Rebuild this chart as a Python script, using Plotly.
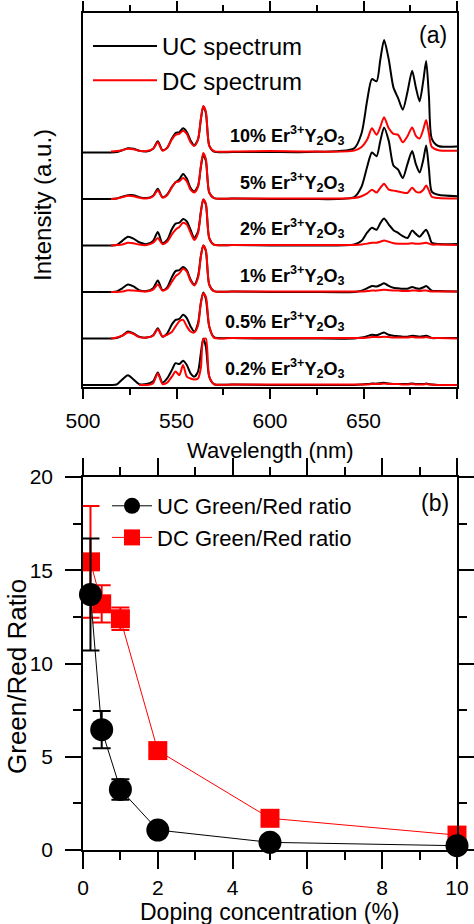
import plotly.graph_objects as go

# ---- panel (a): emission spectra, normalised to the 564 nm peak ----
wavelength = [500, 515, 518, 521, 524, 527, 530, 534, 537.5, 540, 542.5, 545, 547.5,
              549.5, 551.5, 553.5, 555.5, 557.5, 559.5, 561.5, 563, 564.3, 565.7, 567.5,
              570, 580, 600, 620, 645, 649, 652, 654.5, 657, 659, 661, 663.5, 666,
              668.5, 671, 673.5, 676, 678, 680, 682, 683.5, 685, 686.5, 690, 700]

conc_labels = ["0.2%", "0.5%", "1%", "2%", "5%", "10%"]

uc_02 = [0, 0, 0.01, 0.12, 0.21, 0.12, 0.02, 0.02, 0.08, 0.27, 0.05, 0.14, 0.32, 0.47, 0.45, 0.52,
         0.43, 0.25, 0.18, 0.29, 0.68, 1.0, 0.82, 0.18, 0.02, 0.01, 0.0, 0.0, 0.0, 0.01, 0.02, 0.03,
         0.03, 0.04, 0.05, 0.03, 0.02, 0.02, 0.02, 0.02, 0.03, 0.02, 0.02, 0.02, 0.03, 0.02, 0.01, 0.0, 0.0]
dc_02 = [None, None, None, None, None, None, 0.0, 0.0, 0.04, 0.25, 0.02, 0.05, 0.18, 0.29, 0.21, 0.43,
         0.18, 0.14, 0.12, 0.14, 0.36, 0.98, 1.0, 0.18, 0.02, 0.01, 0.01, 0.01, 0.01, 0.01, 0.01, 0.02,
         0.02, 0.02, 0.03, 0.02, 0.02, 0.02, 0.01, 0.01, 0.02, 0.01, 0.01, 0.01, 0.02, 0.01, 0.01, 0.0, 0.0]
uc_05 = [0, 0, 0.01, 0.06, 0.15, 0.11, 0.04, 0.02, 0.07, 0.22, 0.04, 0.11, 0.30, 0.40, 0.42, 0.51,
         0.44, 0.26, 0.15, 0.33, 0.76, 0.99, 0.85, 0.26, 0.03, 0.01, 0.0, 0.0, 0.0, 0.02, 0.05, 0.08,
         0.07, 0.10, 0.13, 0.08, 0.06, 0.05, 0.04, 0.04, 0.06, 0.05, 0.04, 0.05, 0.06, 0.04, 0.01, 0.01, 0.01]
dc_05 = [None, 0.0, 0.02, 0.06, 0.13, 0.10, 0.03, 0.02, 0.06, 0.20, 0.04, 0.08, 0.14, 0.26, 0.37, 0.40,
         0.26, 0.15, 0.13, 0.28, 0.76, 0.97, 0.90, 0.26, 0.02, 0.01, 0.01, 0.01, 0.01, 0.01, 0.02, 0.03,
         0.03, 0.03, 0.04, 0.03, 0.02, 0.02, 0.02, 0.02, 0.03, 0.02, 0.02, 0.02, 0.03, 0.02, 0.01, 0.01, 0.0]
uc_1 = [0, 0, 0.01, 0.08, 0.16, 0.12, 0.04, 0.02, 0.08, 0.25, 0.04, 0.10, 0.32, 0.45, 0.47, 0.54,
        0.47, 0.27, 0.16, 0.34, 0.77, 1.0, 0.88, 0.16, 0.02, 0.01, 0.0, 0.0, 0.0, 0.03, 0.08, 0.13,
        0.12, 0.15, 0.19, 0.13, 0.09, 0.08, 0.07, 0.07, 0.11, 0.08, 0.07, 0.10, 0.13, 0.08, 0.03, 0.02, 0.01]
dc_1 = [None, 0.0, 0.0, 0.01, 0.04, 0.03, 0.02, 0.01, 0.05, 0.16, 0.03, 0.07, 0.22, 0.34, 0.40, 0.50,
        0.44, 0.24, 0.14, 0.30, 0.75, 1.0, 0.90, 0.16, 0.02, 0.01, 0.01, 0.01, 0.01, 0.01, 0.02, 0.03,
        0.03, 0.04, 0.05, 0.04, 0.03, 0.03, 0.02, 0.02, 0.03, 0.03, 0.02, 0.03, 0.03, 0.02, 0.01, 0.01, 0.01]
uc_2 = [0, 0, 0.01, 0.10, 0.19, 0.15, 0.07, 0.03, 0.10, 0.29, 0.05, 0.12, 0.35, 0.47, 0.49, 0.57,
        0.52, 0.34, 0.16, 0.30, 0.72, 0.99, 0.88, 0.16, 0.02, 0.01, 0.0, 0.0, 0.02, 0.10, 0.28, 0.38,
        0.34, 0.48, 0.58, 0.45, 0.33, 0.27, 0.20, 0.16, 0.32, 0.25, 0.19, 0.28, 0.34, 0.22, 0.06, 0.03, 0.03]
dc_2 = [None, 0.0, 0.01, 0.02, 0.06, 0.05, 0.02, 0.01, 0.06, 0.16, 0.03, 0.08, 0.24, 0.34, 0.40, 0.49,
        0.45, 0.28, 0.12, 0.26, 0.70, 0.99, 0.90, 0.16, 0.02, 0.01, 0.01, 0.01, 0.01, 0.02, 0.04, 0.06,
        0.06, 0.08, 0.11, 0.08, 0.05, 0.04, 0.04, 0.04, 0.05, 0.04, 0.04, 0.05, 0.06, 0.04, 0.02, 0.02, 0.01]
uc_5 = [0, 0, 0.01, 0.05, 0.08, 0.08, 0.04, 0.02, 0.07, 0.22, 0.04, 0.10, 0.26, 0.36, 0.42, 0.54,
        0.44, 0.24, 0.16, 0.28, 0.68, 0.95, 0.82, 0.14, 0.02, 0.01, 0.0, 0.0, 0.04, 0.27, 0.70, 1.0,
        0.92, 1.25, 1.54, 1.25, 0.72, 0.63, 0.45, 0.75, 1.03, 0.75, 0.57, 0.85, 1.15, 0.65, 0.16, 0.09, 0.06]
dc_5 = [None, 0.0, 0.01, 0.04, 0.07, 0.06, 0.03, 0.01, 0.06, 0.19, 0.03, 0.08, 0.25, 0.36, 0.38, 0.45,
        0.38, 0.20, 0.14, 0.26, 0.70, 0.99, 0.86, 0.14, 0.02, 0.01, 0.01, 0.01, 0.02, 0.06, 0.12, 0.20,
        0.14, 0.24, 0.33, 0.20, 0.18, 0.16, 0.14, 0.13, 0.24, 0.16, 0.14, 0.20, 0.29, 0.18, 0.05, 0.02, 0.01]
uc_10 = [0, 0, 0.01, 0.05, 0.09, 0.08, 0.04, 0.02, 0.08, 0.24, 0.05, 0.10, 0.30, 0.42, 0.44, 0.52,
         0.44, 0.26, 0.16, 0.28, 0.70, 0.99, 0.85, 0.15, 0.02, 0.01, 0.01, 0.01, 0.09, 0.42, 1.13, 1.58,
         1.53, 2.0, 2.42, 2.0, 1.40, 1.17, 0.92, 1.30, 1.76, 1.40, 1.10, 1.55, 1.97, 1.20, 0.30, 0.14, 0.13]
dc_10 = [None, 0.02, 0.03, 0.05, 0.08, 0.07, 0.04, 0.03, 0.08, 0.22, 0.04, 0.10, 0.28, 0.38, 0.40, 0.47,
         0.40, 0.22, 0.14, 0.28, 0.72, 1.0, 0.88, 0.15, 0.03, 0.02, 0.03, 0.02, 0.04, 0.12, 0.28, 0.52,
         0.38, 0.55, 0.76, 0.52, 0.40, 0.38, 0.22, 0.35, 0.54, 0.36, 0.30, 0.50, 0.70, 0.40, 0.12, 0.05, 0.04]

uc_spectra = [uc_02, uc_05, uc_1, uc_2, uc_5, uc_10]
dc_spectra = [dc_02, dc_05, dc_1, dc_2, dc_5, dc_10]

# ---- panel (b): green/red ratio vs doping ----
doping = [0.2, 0.5, 1, 2, 5, 10]
uc_ratio = [13.7, 6.45, 3.25, 1.07, 0.41, 0.23]
uc_err = [3.0, 1.0, 0.55, 0.25, 0.15, 0.15]
dc_ratio = [15.45, 13.2, 12.4, 5.33, 1.70, 0.80]
dc_err = [3.0, 1.0, 0.6, 0.3, 0.3, 0.2]

FONT = "Liberation Sans, Arial, sans-serif"
RED = "rgb(255,0,0)"

fig = go.Figure()

for i, lab in enumerate(conc_labels):
    shift = i  # stacked with unit spacing
    fig.add_trace(go.Scatter(
        x=wavelength, y=[None if v is None else v + shift for v in uc_spectra[i]],
        mode="lines", line=dict(color="black", width=2, shape="spline", smoothing=0.7),
        name="UC spectrum", showlegend=(lab == "10%"), legend="legend",
        xaxis="x", yaxis="y"))
    fig.add_trace(go.Scatter(
        x=wavelength, y=[None if v is None else v + shift for v in dc_spectra[i]],
        mode="lines", line=dict(color=RED, width=2, shape="spline", smoothing=0.7),
        name="DC spectrum", showlegend=(lab == "10%"), legend="legend",
        xaxis="x", yaxis="y"))
    fig.add_annotation(
        x=640.5, y=shift + 0.36, xref="x", yref="y", xanchor="right", yanchor="middle",
        text=f"<b>{lab} Er<sup>3+</sup>Y<sub>2</sub>O<sub>3</sub></b>", showarrow=False,
        font=dict(family=FONT, size=18, color="black"))

# DC first so the UC circles sit on top
fig.add_trace(go.Scatter(
    x=doping, y=dc_ratio, mode="lines+markers", name="DC Green/Red ratio",
    line=dict(color=RED, width=1), marker=dict(symbol="square", size=19, color=RED),
    error_y=dict(type="data", array=dc_err, color=RED, thickness=2, width=9),
    legend="legend2", legendrank=2, cliponaxis=False, xaxis="x2", yaxis="y2"))
fig.add_trace(go.Scatter(
    x=doping, y=uc_ratio, mode="lines+markers", name="UC Green/Red ratio",
    line=dict(color="black", width=1), marker=dict(symbol="circle", size=23, color="black"),
    error_y=dict(type="data", array=uc_err, color="black", thickness=2, width=9),
    legend="legend2", legendrank=1, cliponaxis=False, xaxis="x2", yaxis="y2"))

W, H = 474, 924
xdom = [83 / W, 457 / W]
axis_common = dict(showline=True, linecolor="black", linewidth=1.5, mirror="allticks",
                   showgrid=False, zeroline=False, automargin=False,
                   tickfont=dict(family=FONT, size=21, color="black"),
                   tickcolor="black", tickwidth=1.5)

fig.update_layout(
    width=W, height=H, margin=dict(l=0, r=0, t=0, b=0),
    paper_bgcolor="white", plot_bgcolor="white",
    font=dict(family=FONT, color="black"),
    xaxis=dict(domain=xdom, range=[500, 700], anchor="y", tickvals=[500, 550, 600, 650, 700],
               ticks="outside", ticklen=10, ticklabelstandoff=4,
               minor=dict(tickvals=[525, 575, 625, 675], ticks="outside", ticklen=6,
                          tickcolor="black", tickwidth=1.5),
               **axis_common),
    yaxis=dict(domain=[1 - 387 / H, 1 - 13 / H], range=[-0.043, 8.0], anchor="x",
               showticklabels=False, ticks="", **axis_common),
    xaxis2=dict(domain=xdom, range=[0, 10], anchor="y2", tickvals=[0, 2, 4, 6, 8, 10],
                ticks="outside", ticklen=17, ticklabelstandoff=1,
                minor=dict(tickvals=[1, 3, 5, 7, 9], ticks="outside", ticklen=8,
                           tickcolor="black", tickwidth=1.5),
                **axis_common),
    yaxis2=dict(domain=[1 - 850 / H, 1 - 477 / H], range=[0, 20], anchor="x2",
                tickvals=[0, 5, 10, 15, 20], ticks="outside", ticklen=16, ticklabelstandoff=8,
                minor=dict(tickvals=[2.5, 7.5, 12.5, 17.5], ticks="outside", ticklen=8,
                           tickcolor="black", tickwidth=1.5),
                **axis_common),
    legend=dict(x=88 / W, y=1 - 24 / H, xanchor="left", yanchor="top", bgcolor="rgba(0,0,0,0)",
                font=dict(family=FONT, size=24, color="black"), itemwidth=64,
                tracegroupgap=0, traceorder="normal"),
    legend2=dict(x=107 / W, y=1 - 485 / H, xanchor="left", yanchor="top", bgcolor="rgba(0,0,0,0)",
                 font=dict(family=FONT, size=22, color="black"), itemwidth=40,
                 traceorder="normal"),
    showlegend=True,
)

# panel tags and axis titles
def paper_text(px, py, text, size=22, angle=0):
    fig.add_annotation(x=px / W, y=1 - py / H, xref="paper", yref="paper", text=text,
                       xanchor="center", yanchor="middle", textangle=angle,
                       showarrow=False, font=dict(family=FONT, size=size, color="black"))

paper_text(433, 35, "(a)", size=23)
paper_text(435, 503, "(b)", size=23)
paper_text(270, 450, "Wavelength (nm)", size=22)
paper_text(270, 912, "Doping concentration (%)", size=23)
paper_text(42, 205, "Intensity (a.u.)", size=24, angle=-90)
paper_text(17, 677, "Green/Red Ratio", size=26, angle=-90)

fig.write_html("out.html", config={"displayModeBar": False},
               post_script="document.body.style.margin='0';")
